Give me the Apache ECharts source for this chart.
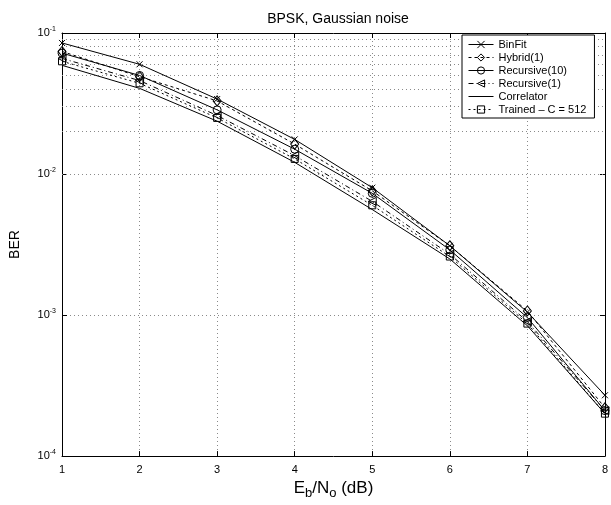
<!DOCTYPE html>
<html><head><meta charset="utf-8">
<script src="https://cdn.jsdelivr.net/npm/echarts@6/dist/echarts.min.js"></script>
<style>html,body{margin:0;padding:0;background:#fff}#c{width:611px;height:505px}</style>
</head><body><div id="c"></div>
<script>
const snr = [1, 2, 3, 4, 5, 6, 7, 8];
const binFit = [0.085, 0.060, 0.034, 0.0176, 0.0080, 0.0031, 0.00105, 0.00027];
const hybrid1 = [0.074, 0.049, 0.033, 0.0163, 0.0076, 0.0031, 0.00107, 0.00022];
const recursive10 = [0.072, 0.050, 0.0285, 0.0150, 0.0073, 0.0029, 0.00096, 0.00021];
const recursive1 = [0.066, 0.046, 0.026, 0.0135, 0.0064, 0.0027, 0.00090, 0.00021];
const correlator = [0.059, 0.0405, 0.0237, 0.0121, 0.0056, 0.0025, 0.00084, 0.00020];
const trained = [0.063, 0.044, 0.025, 0.0128, 0.0060, 0.0026, 0.00087, 0.00020];
const minorGrid = [2e-4,3e-4,4e-4,5e-4,6e-4,7e-4,8e-4,9e-4,2e-3,3e-3,4e-3,5e-3,6e-3,7e-3,8e-3,9e-3,2e-2,3e-2,4e-2,5e-2,6e-2,7e-2,8e-2,9e-2];

const FONT = 'Liberation Sans, Arial, Helvetica, sans-serif';
const pair = arr => snr.map((x, i) => [x, arr[i]]);
const gridStyle = {color: '#8a8a8a', width: 1, type: [1, 3]};
const CLEAR = 'rgba(0,0,0,0)';
const mk = (name, data, symbol, dash, extra) => Object.assign({
  name, type: 'line', data: pair(data), symbol, symbolSize: 8,
  lineStyle: {color: '#000', width: 1, type: dash},
  itemStyle: {color: CLEAR, borderColor: '#000', borderWidth: 1},
  emphasis: {disabled: true}, z: 5
}, extra || {});

const TRAINED = 'Trained \u2013 C = 512';
const series = [
  mk('BinFit', binFit, 'path://M0,0L10,10M10,0L0,10', 'solid', {symbolSize: 6}),
  mk('Hybrid(1)', hybrid1, 'diamond', [3, 3], {symbolSize: [8, 10]}),
  mk('Recursive(10)', recursive10, 'circle', 'solid'),
  mk('Recursive(1)', recursive1, 'triangle', [5, 3, 1, 3], {symbolRotate: 90}),
  mk('Correlator', correlator, 'none', 'solid'),
  mk(TRAINED, trained, 'rect', [2, 3], {symbolSize: 7})
];
series[0].markLine = {
  silent: true, symbol: 'none', label: {show: false}, animation: false,
  lineStyle: gridStyle, z: 1,
  data: minorGrid.map(v => ({yAxis: v}))
};

const chart = echarts.init(document.getElementById('c'), null, {renderer: 'canvas'});
chart.setOption({
  animation: false,
  backgroundColor: '#fff',
  textStyle: {fontFamily: FONT},
  title: {
    text: 'BPSK, Gaussian noise', left: 333, top: 7, textAlign: 'center',
    textStyle: {fontFamily: FONT, fontSize: 14, fontWeight: 'normal', color: '#000'}
  },
  grid: {left: 58, right: 3, top: 33, bottom: 39, containLabel: false},
  legend: {
    orient: 'vertical', left: 462, top: 35,
    backgroundColor: '#fff', borderColor: '#000', borderWidth: 1,
    padding: [4, 8, 3, 6], itemGap: 2, itemWidth: 25, itemHeight: 9,
    lineStyle: {width: 1},
    itemStyle: {borderWidth: 1},
    textStyle: {fontFamily: FONT, fontSize: 11, color: '#000'},
    data: [
      'BinFit', 'Hybrid(1)', 'Recursive(10)', 'Recursive(1)',
      {name: 'Correlator', itemStyle: {color: CLEAR, borderColor: CLEAR, borderWidth: 0}},
      TRAINED
    ],
    selectedMode: false, z: 10
  },
  xAxis: [{
    type: 'value', min: 1, max: 8, interval: 1,
    name: 'E{sub|b}/N{sub|o} (dB)', nameLocation: 'middle', nameGap: 19,
    nameTextStyle: {fontFamily: FONT, fontSize: 17, color: '#000',
      rich: {sub: {fontFamily: FONT, fontSize: 13, color: '#000', padding: [10, 0, 0, 0]}}},
    axisLine: {lineStyle: {color: '#000', width: 1}},
    axisTick: {inside: true, length: 5, lineStyle: {color: '#000'}},
    axisLabel: {fontFamily: FONT, fontSize: 11, color: '#000', margin: 8},
    splitLine: {show: true, lineStyle: gridStyle}
  }, {
    type: 'value', min: 1, max: 8, interval: 1, position: 'top',
    axisLine: {lineStyle: {color: '#000', width: 1}},
    axisTick: {inside: true, length: 5, lineStyle: {color: '#000'}},
    axisLabel: {show: false}, splitLine: {show: false}
  }],
  yAxis: [{
    type: 'log', logBase: 10, min: 1e-4, max: 1e-1,
    name: 'BER', nameLocation: 'middle', nameGap: 40, nameRotate: 90,
    nameTextStyle: {fontFamily: FONT, fontSize: 14, color: '#000'},
    axisLine: {lineStyle: {color: '#000', width: 1}},
    axisTick: {inside: true, length: 5, lineStyle: {color: '#000'}},
    axisLabel: {
      fontFamily: FONT, fontSize: 11, color: '#000', margin: 6,
      formatter: v => '10{sup|' + Math.round(Math.log10(v)) + '}',
      rich: {sup: {fontFamily: FONT, fontSize: 7, color: '#000', padding: [0, 0, 8, 0]}}
    },
    splitLine: {show: true, lineStyle: gridStyle}
  }, {
    type: 'log', logBase: 10, min: 1e-4, max: 1e-1, position: 'right',
    axisLine: {lineStyle: {color: '#000', width: 1}},
    axisTick: {inside: true, length: 5, lineStyle: {color: '#000'}},
    axisLabel: {show: false}, splitLine: {show: false}
  }],
  series
});
</script></body></html>
